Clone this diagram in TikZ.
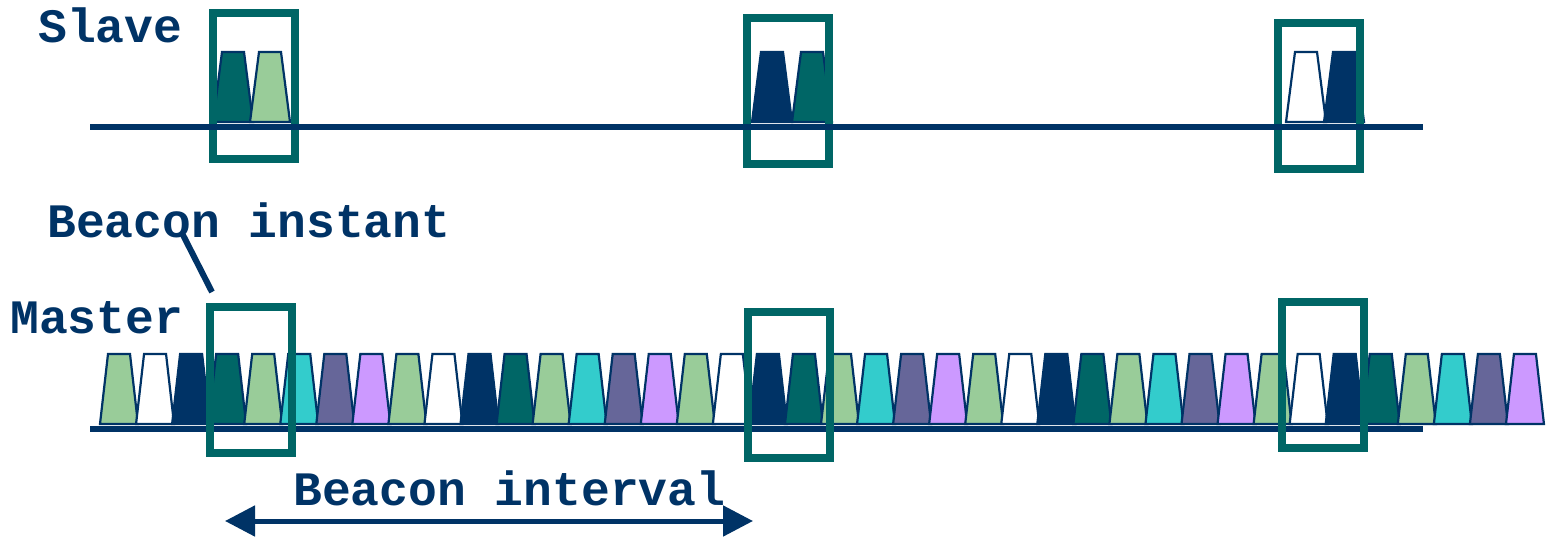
\documentclass[tikz,border=0pt]{standalone}
\usepackage{fontspec}
\usepackage{tikz}
\usetikzlibrary{arrows.meta}

\newfontfamily\monofont{Liberation Mono}
\definecolor{bnavy}{HTML}{003366}
\definecolor{bteal}{HTML}{006666}
\definecolor{bgreen}{HTML}{99CC99}
\definecolor{bcyan}{HTML}{33CCCC}
\definecolor{bslate}{HTML}{666699}
\definecolor{blilac}{HTML}{CC99FF}

\newcommand{\tagfont}{\monofont\bfseries\fontsize{48}{56}\selectfont}

\begin{document}
\begin{tikzpicture}[x=1pt, y=-1pt,
    pulse/.style={draw=bnavy, line width=2.2pt},
    slot/.style={draw=bteal, line width=8pt, minimum width=82pt, minimum height=146pt, inner sep=0pt},
    axis/.style={draw=bnavy, line width=6pt},
    tag/.style={text=bnavy, inner sep=0pt, anchor=base west, font=\tagfont}]
      \useasboundingbox[fill=white] (0,0) rectangle (1548,536);
      % labels
      \node[tag] (slave) at (38,42) {Slave};
      \node[tag] (master) at (10,333) {Master};
      \node[tag] (instant) at (47,237) {Beacon instant};
      \node[tag] (interval) at (293,505) {Beacon interval};
      % master hops, one colour per channel
      \foreach \k in {0,...,4}
        \foreach \c [count=\j from 0] in {bgreen,white,bnavy,bteal,bgreen,bcyan,bslate,blilac}
          \draw[pulse, fill=\c] ({100+36.05*(8*\k+\j)},424) -- ++(8,-70) -- ++(22,0) -- ++(8,70) -- cycle;
      \coordinate (m-start) at (90,428.5);
      \coordinate (m-end) at (1423,428.5);
      \draw[axis] (m-start) -- (m-end);
      \node[slot] (mslot1) at (250.5,379.5) {};
      \node[slot] (mslot2) at (789,384.5) {};
      \node[slot] (mslot3) at (1323,375) {};
      % slave listens only at the beacon instants
      \foreach \x/\c in {213/bteal, 250/bgreen, 752/bnavy, 792/bteal, 1286/white, 1324/bnavy}
        \draw[pulse, fill=\c] (\x,122) -- ++(9,-70) -- ++(22,0) -- ++(9,70) -- cycle;
      \node[slot] (sslot1) at (254,85.5) {};
      \node[slot] (sslot2) at (788,91) {};
      \node[slot] (sslot3) at (1319,96) {};
      \coordinate (s-start) at (90,127);
      \coordinate (s-end) at (1423,127);
      \draw[axis] (s-start) -- (s-end);
      % pointer and interval arrow
      \coordinate (instant-foot) at (183,235);
      \coordinate (instant-tip) at (212,292);
      \draw[bnavy, line width=6pt] (instant-foot) -- (instant-tip);
      \coordinate (int-left) at (225,521);
      \coordinate (int-right) at (753,521);
      \draw[bnavy, line width=5pt, {Triangle[length=30pt,width=30pt]}-{Triangle[length=30pt,width=30pt]}] (int-left) -- (int-right);
    \end{tikzpicture}
\end{document}
